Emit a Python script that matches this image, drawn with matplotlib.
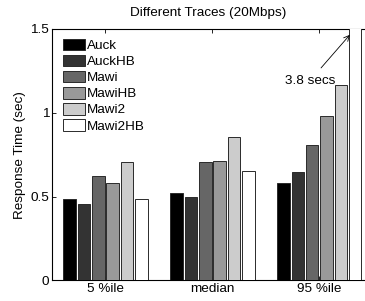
import numpy as np
import matplotlib
matplotlib.use('Agg')
import matplotlib.pyplot as plt

plt.rcParams['font.family'] = ['Liberation Sans', 'DejaVu Sans']

# data
categories = ['5 %ile', 'median', '95 %ile']
series = ['Auck', 'AuckHB', 'Mawi', 'MawiHB', 'Mawi2', 'Mawi2HB']
auck = [0.486, 0.521, 0.579]
auck_hb = [0.456, 0.499, 0.647]
mawi = [0.622, 0.708, 0.808]
mawi_hb = [0.578, 0.714, 0.981]
mawi2 = [0.708, 0.855, 1.168]
mawi2_hb = [0.488, 0.654, 3.8]
values = [auck, auck_hb, mawi, mawi_hb, mawi2, mawi2_hb]
colors = ['#000000', '#333333', '#666666', '#999999', '#cccccc', '#ffffff']

FS = 9.7

fig = plt.figure(figsize=(3.65, 3.01), dpi=100)
ax = fig.add_axes([0.1425, 0.0688, 0.879, 0.835])

x = np.arange(1, len(categories) + 1)
pitch = 0.134
width = 0.117
for i, (name, vals, c) in enumerate(zip(series, values, colors)):
    off = (i - (len(series) - 1) / 2) * pitch
    ax.bar(x + off, vals, width=width, color=c, edgecolor='#2a2a2a',
           linewidth=0.7, label=name, zorder=2)

ax.set_xlim(0.5, 3.5)
ax.set_ylim(0, 1.5)
ax.set_xticks(x)
ax.set_xticklabels(categories, fontsize=FS)
ax.set_yticks([0, 0.5, 1, 1.5])
ax.set_yticklabels(['0', '0.5', '1', '1.5'], fontsize=FS)
ax.tick_params(direction='in', top=True, right=True, length=3, width=0.6, pad=2)
for s in ax.spines.values():
    s.set_linewidth(0.8)
    s.set_zorder(1)

ax.set_ylabel('Response Time (sec)', fontsize=FS, labelpad=3)
fig.text(0.57, 0.957, 'Different Traces (20Mbps)', ha='center', va='center', fontsize=FS)

ax.annotate('3.8 secs', xy=(3.285, 1.465), xytext=(2.91, 1.19),
            fontsize=FS, ha='center', va='center',
            arrowprops=dict(arrowstyle='->', color='black', lw=0.6,
                            shrinkA=4, shrinkB=0))

ax.legend(loc='upper left', bbox_to_anchor=(0.034, 0.962), frameon=False,
          fontsize=FS, borderpad=0, borderaxespad=0, handlelength=1.65,
          handleheight=0.95, labelspacing=0.2, handletextpad=0.15)

fig.savefig('out.png', dpi=100)
